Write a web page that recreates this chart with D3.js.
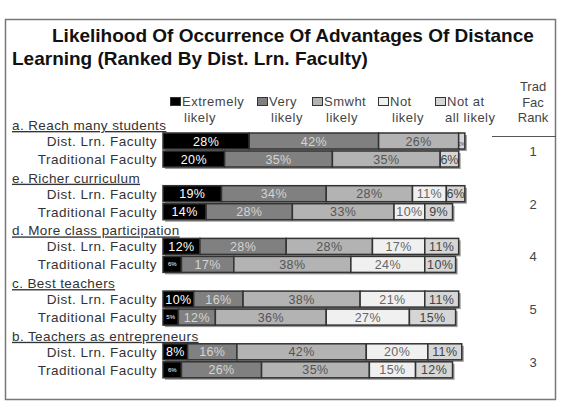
<!DOCTYPE html>
<html>
<head>
<meta charset="utf-8">
<script src="https://cdn.jsdelivr.net/npm/d3@7"></script>
<style>
  body { margin: 0; background: #fff; }
  text { font-family: "Liberation Sans", Arial, sans-serif; }
</style>
</head>
<body>
<div id="chart"></div>
<script>
// chart data
var groups = ['a. Reach many students', 'e. Richer curriculum', 'd. More class participation', 'c. Best teachers', 'b. Teachers as entrepreneurs'];
var respondents = ['Dist. Lrn. Faculty', 'Traditional Faculty'];
var categories = ['Extremely likely', 'Very likely', 'Smwht likely', 'Not likely', 'Not at all likely'];
var legendLines = [['Extremely', 'likely'], ['Very', 'likely'], ['Smwht', 'likely'], ['Not', 'likely'], ['Not at', 'all likely']];
var distValues = [[28, 42, 26, 0, 2], [19, 34, 28, 11, 6], [12, 28, 28, 17, 11], [10, 16, 38, 21, 11], [8, 16, 42, 20, 11]];
var tradValues = [[20, 35, 35, 0, 6], [14, 28, 33, 10, 9], [6, 17, 38, 24, 10], [5, 12, 36, 27, 15], [6, 26, 35, 15, 12]];
var tradRanks = [1, 2, 4, 5, 3];

// layout
const W = 566, H = 406;
const GROUP_TOP = 133, GROUP_STEP = 52.7;
const BAR_H = 16;
const fills = ['#000000', '#808080', '#b3b3b3', '#f0f0f0', '#d6d6d6'];
const labelColors = ['#ffffff', '#d4d4d4', '#555555', '#666666', '#444444'];

var svg = d3.select('#chart').append('svg')
  .attr('width', W)
  .attr('height', H);

svg.append('rect')
  .attr('x', 5.5).attr('y', 19.5)
  .attr('width', 550).attr('height', 380)
  .attr('fill', '#fff')
  .attr('stroke', '#777')
  .attr('stroke-width', 1.5);

// title
svg.append('text').attr('x', 52).attr('y', 42)
  .attr('font-size', 19).attr('font-weight', 'bold').attr('fill', '#111')
  .text('Likelihood Of Occurrence Of Advantages Of Distance');
svg.append('text').attr('x', 12).attr('y', 65)
  .attr('font-size', 19).attr('font-weight', 'bold').attr('fill', '#111')
  .text('Learning (Ranked By Dist. Lrn. Faculty)');

var x = d3.scaleLinear().domain([0, 100]).range([163, 471]);

// legend
var legendX = [170, 257, 312, 378, 435];
var legend = svg.selectAll('g.legend').data(categories)
  .enter().append('g')
  .classed('legend', true)
  .attr('transform', (d, i) => 'translate(' + legendX[i] + ',0)');
legend.append('rect')
  .attr('x', 0.5).attr('y', 97.5)
  .attr('width', 10).attr('height', 8)
  .attr('fill', (d, i) => fills[i])
  .attr('stroke', '#333');
legend.append('text')
  .attr('x', 12).attr('y', 106)
  .attr('font-size', 13).attr('letter-spacing', 0.5).attr('fill', '#444')
  .text((d, i) => legendLines[i][0]);
legend.append('text')
  .attr('x', (d, i) => i == 4 ? 10 : 14).attr('y', 122)
  .attr('font-size', 13).attr('letter-spacing', 0.5).attr('fill', '#444')
  .text((d, i) => legendLines[i][1]);

// rank column header
['Trad', 'Fac', 'Rank'].forEach(function (t, i) {
  svg.append('text').attr('x', 533).attr('y', 91 + i * 15.5)
    .attr('text-anchor', 'middle').attr('font-size', 13).attr('fill', '#444')
    .text(t);
});
svg.append('line')
  .attr('x1', 492).attr('x2', 556)
  .attr('y1', 136.5).attr('y2', 136.5)
  .attr('stroke', '#555').attr('stroke-width', 1.2);

// groups
var g = svg.selectAll('g.group').data(groups)
  .enter().append('g')
  .classed('group', true)
  .attr('transform', (d, i) => 'translate(0,' + (GROUP_TOP + i * GROUP_STEP) + ')');

g.append('text')
  .attr('x', 12).attr('y', -3)
  .attr('font-size', 13.5).attr('letter-spacing', 0.4).attr('fill', '#333')
  .attr('text-decoration', 'underline')
  .text(d => d);

g.append('text')
  .attr('x', 533).attr('y', 23)
  .attr('text-anchor', 'middle').attr('font-size', 13).attr('fill', '#444')
  .text((d, i) => tradRanks[i]);

g.each(function (name, gi) {
  var rows = [distValues[gi], tradValues[gi]];
  var grp = d3.select(this);
  rows.forEach(function (vals, ri) {
    var y0 = ri * (BAR_H + 2);
    grp.append('text')
      .attr('x', 157).attr('y', y0 + BAR_H / 2 + 5)
      .attr('text-anchor', 'end').attr('font-size', 13.5)
      .attr('letter-spacing', 0.5).attr('fill', '#333')
      .text(respondents[ri]);

    var cum = 0;
    var segs = vals.map(function (v, k) {
      var s = { v: v, k: k, start: cum };
      cum += v;
      return s;
    }).filter(s => s.v > 0);

    var row = grp.append('g');
    // shadow
    row.append('rect')
      .attr('x', x(0) + 2).attr('y', y0 + 2)
      .attr('width', x(cum) - x(0)).attr('height', BAR_H)
      .attr('fill', '#999');
    row.selectAll('rect.seg').data(segs)
      .enter().append('rect')
      .classed('seg', true)
      .attr('x', s => x(s.start))
      .attr('y', y0)
      .attr('width', s => x(s.start + s.v) - x(s.start))
      .attr('height', BAR_H)
      .attr('fill', s => fills[s.k])
      .attr('stroke', '#333')
      .attr('stroke-width', 1.5);
    row.selectAll('text.lbl').data(segs)
      .enter().append('text')
      .classed('lbl', true)
      .attr('x', s => (x(s.start) + x(s.start + s.v)) / 2)
      .attr('y', s => y0 + BAR_H / 2 + (s.v < 7 && s.k == 0 ? 2 : 4.5))
      .attr('text-anchor', 'middle')
      .attr('font-size', s => s.v < 3 ? 5 : (s.v < 7 && s.k == 0 ? 6 : 12.5))
      .attr('letter-spacing', s => s.v < 7 ? 0 : 0.4)
      .attr('fill', s => labelColors[s.k])
      .text(s => s.v + '%');
  });
});
</script>
</body>
</html>
